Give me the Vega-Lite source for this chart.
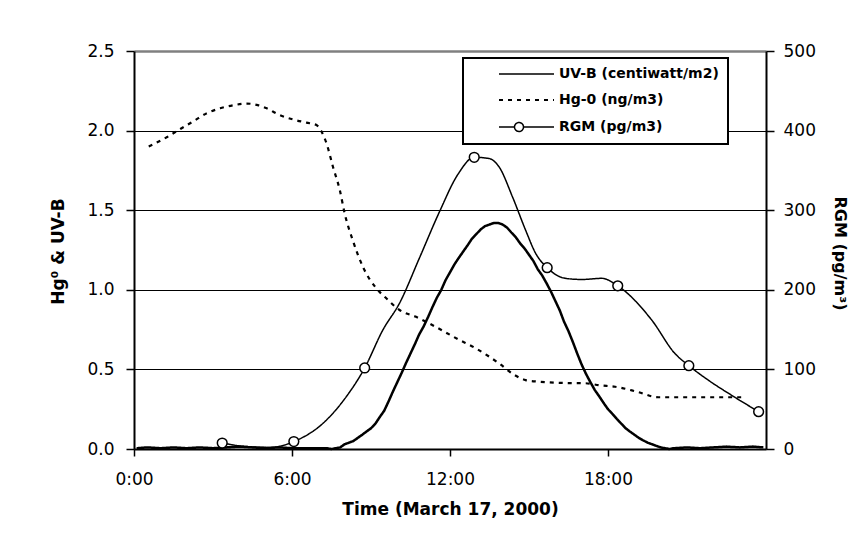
{
  "$schema": "https://vega.github.io/schema/vega-lite/v6.json",
  "width": 632,
  "height": 398,
  "autosize": {"type": "none"},
  "padding": {"left": 134, "top": 51, "right": 101, "bottom": 89},
  "background": "white",
  "config": {
    "font": "DejaVu Sans",
    "view": {"stroke": null},
    "axis": {
      "labelFont": "DejaVu Sans", "labelFontSize": 17, "labelColor": "black",
      "tickColor": "black", "domainColor": "black", "titleColor": "black",
      "titleFont": "DejaVu Sans", "titleFontWeight": "bold",
      "labelFlush": false, "labelOverlap": false
    }
  },
  "datasets": {
    "uvb": [
      {"time": 0.1, "uvb": 0.005}, {"time": 0.5, "uvb": 0.01}, {"time": 1.0, "uvb": 0.005}, {"time": 1.5, "uvb": 0.01},
      {"time": 2.0, "uvb": 0.005}, {"time": 2.5, "uvb": 0.01}, {"time": 3.0, "uvb": 0.005}, {"time": 3.5, "uvb": 0.01},
      {"time": 4.0, "uvb": 0.015}, {"time": 4.5, "uvb": 0.01}, {"time": 5.0, "uvb": 0.005}, {"time": 5.5, "uvb": 0.01},
      {"time": 6.0, "uvb": 0.005}, {"time": 6.5, "uvb": 0.005}, {"time": 7.0, "uvb": 0.005}, {"time": 7.33, "uvb": 0.005},
      {"time": 7.5, "uvb": 0.0}, {"time": 7.67, "uvb": 0.005}, {"time": 7.83, "uvb": 0.01}, {"time": 8.0, "uvb": 0.03},
      {"time": 8.17, "uvb": 0.04}, {"time": 8.33, "uvb": 0.05}, {"time": 8.5, "uvb": 0.07}, {"time": 8.67, "uvb": 0.09},
      {"time": 8.83, "uvb": 0.11}, {"time": 9.0, "uvb": 0.13}, {"time": 9.17, "uvb": 0.16}, {"time": 9.33, "uvb": 0.2},
      {"time": 9.5, "uvb": 0.24}, {"time": 9.67, "uvb": 0.3}, {"time": 9.83, "uvb": 0.36}, {"time": 10.0, "uvb": 0.42},
      {"time": 10.17, "uvb": 0.48}, {"time": 10.33, "uvb": 0.54}, {"time": 10.5, "uvb": 0.6}, {"time": 10.67, "uvb": 0.66},
      {"time": 10.83, "uvb": 0.72}, {"time": 11.0, "uvb": 0.77}, {"time": 11.17, "uvb": 0.83}, {"time": 11.33, "uvb": 0.89},
      {"time": 11.5, "uvb": 0.95}, {"time": 11.67, "uvb": 1.0}, {"time": 11.83, "uvb": 1.06}, {"time": 12.0, "uvb": 1.11},
      {"time": 12.17, "uvb": 1.16}, {"time": 12.33, "uvb": 1.2}, {"time": 12.5, "uvb": 1.24}, {"time": 12.67, "uvb": 1.28},
      {"time": 12.83, "uvb": 1.32}, {"time": 13.0, "uvb": 1.35}, {"time": 13.17, "uvb": 1.38}, {"time": 13.33, "uvb": 1.4},
      {"time": 13.5, "uvb": 1.41}, {"time": 13.67, "uvb": 1.42}, {"time": 13.83, "uvb": 1.42}, {"time": 14.0, "uvb": 1.41},
      {"time": 14.17, "uvb": 1.39}, {"time": 14.33, "uvb": 1.36}, {"time": 14.5, "uvb": 1.33}, {"time": 14.67, "uvb": 1.29},
      {"time": 14.83, "uvb": 1.26}, {"time": 15.0, "uvb": 1.22}, {"time": 15.17, "uvb": 1.18}, {"time": 15.33, "uvb": 1.13},
      {"time": 15.5, "uvb": 1.09}, {"time": 15.67, "uvb": 1.04}, {"time": 15.83, "uvb": 0.99}, {"time": 16.0, "uvb": 0.93},
      {"time": 16.17, "uvb": 0.87}, {"time": 16.33, "uvb": 0.8}, {"time": 16.5, "uvb": 0.74}, {"time": 16.67, "uvb": 0.67},
      {"time": 16.83, "uvb": 0.6}, {"time": 17.0, "uvb": 0.53}, {"time": 17.17, "uvb": 0.47}, {"time": 17.33, "uvb": 0.42},
      {"time": 17.5, "uvb": 0.37}, {"time": 17.67, "uvb": 0.33}, {"time": 17.83, "uvb": 0.29}, {"time": 18.0, "uvb": 0.25},
      {"time": 18.17, "uvb": 0.22}, {"time": 18.33, "uvb": 0.19}, {"time": 18.5, "uvb": 0.16}, {"time": 18.67, "uvb": 0.13},
      {"time": 18.83, "uvb": 0.11}, {"time": 19.0, "uvb": 0.09}, {"time": 19.17, "uvb": 0.07}, {"time": 19.33, "uvb": 0.055},
      {"time": 19.5, "uvb": 0.04}, {"time": 19.67, "uvb": 0.03}, {"time": 19.83, "uvb": 0.02}, {"time": 20.0, "uvb": 0.01},
      {"time": 20.17, "uvb": 0.005}, {"time": 20.33, "uvb": 0.0}, {"time": 20.5, "uvb": 0.005}, {"time": 21.0, "uvb": 0.01},
      {"time": 21.5, "uvb": 0.005}, {"time": 22.0, "uvb": 0.01}, {"time": 22.5, "uvb": 0.015}, {"time": 23.0, "uvb": 0.01},
      {"time": 23.5, "uvb": 0.015}, {"time": 23.9, "uvb": 0.01}
    ],
    "hg": [
      {"time": 0.56, "hg": 1.9}, {"time": 1.26, "hg": 1.96}, {"time": 1.76, "hg": 2.01}, {"time": 2.27, "hg": 2.06},
      {"time": 2.77, "hg": 2.11}, {"time": 3.27, "hg": 2.14}, {"time": 3.8, "hg": 2.16}, {"time": 4.28, "hg": 2.17},
      {"time": 4.7, "hg": 2.16}, {"time": 5.04, "hg": 2.14}, {"time": 5.5, "hg": 2.1}, {"time": 6.04, "hg": 2.07},
      {"time": 6.55, "hg": 2.05}, {"time": 6.93, "hg": 2.035}, {"time": 7.1, "hg": 2.0}, {"time": 7.31, "hg": 1.92},
      {"time": 7.56, "hg": 1.77}, {"time": 7.81, "hg": 1.63}, {"time": 8.0, "hg": 1.48}, {"time": 8.31, "hg": 1.31},
      {"time": 8.69, "hg": 1.145}, {"time": 9.2, "hg": 1.01}, {"time": 9.58, "hg": 0.947}, {"time": 10.08, "hg": 0.873},
      {"time": 10.71, "hg": 0.83}, {"time": 11.2, "hg": 0.79}, {"time": 11.59, "hg": 0.755}, {"time": 12.3, "hg": 0.69},
      {"time": 12.98, "hg": 0.632}, {"time": 13.86, "hg": 0.538}, {"time": 14.4, "hg": 0.47}, {"time": 14.87, "hg": 0.433},
      {"time": 15.37, "hg": 0.423}, {"time": 16.3, "hg": 0.415}, {"time": 17.14, "hg": 0.413}, {"time": 17.7, "hg": 0.4},
      {"time": 18.27, "hg": 0.391}, {"time": 19.1, "hg": 0.36}, {"time": 19.91, "hg": 0.325}, {"time": 21.0, "hg": 0.325},
      {"time": 22.0, "hg": 0.325}, {"time": 23.19, "hg": 0.325}
    ],
    "rgm": [
      {"time": 3.35, "rgm": 7.5, "marker": true}, {"time": 4.3, "rgm": 3, "marker": false},
      {"time": 5.2, "rgm": 2, "marker": false}, {"time": 6.07, "rgm": 9.4, "marker": true},
      {"time": 7.2, "rgm": 33, "marker": false}, {"time": 8.0, "rgm": 63, "marker": false},
      {"time": 8.76, "rgm": 101.8, "marker": true}, {"time": 9.45, "rgm": 149.5, "marker": false},
      {"time": 10.08, "rgm": 183, "marker": false}, {"time": 10.84, "rgm": 240, "marker": false},
      {"time": 11.6, "rgm": 298, "marker": false}, {"time": 12.3, "rgm": 345, "marker": false},
      {"time": 12.92, "rgm": 366.5, "marker": true}, {"time": 13.48, "rgm": 365, "marker": false},
      {"time": 13.86, "rgm": 354.6, "marker": false}, {"time": 14.37, "rgm": 317, "marker": false},
      {"time": 14.87, "rgm": 275, "marker": false}, {"time": 15.25, "rgm": 246, "marker": false},
      {"time": 15.69, "rgm": 227.8, "marker": true}, {"time": 16.38, "rgm": 214.4, "marker": false},
      {"time": 17.0, "rgm": 213, "marker": false}, {"time": 17.77, "rgm": 214.4, "marker": false},
      {"time": 18.37, "rgm": 205, "marker": true}, {"time": 19.66, "rgm": 162, "marker": false},
      {"time": 20.54, "rgm": 120, "marker": false}, {"time": 21.07, "rgm": 104.7, "marker": true},
      {"time": 21.8, "rgm": 86.7, "marker": false}, {"time": 22.68, "rgm": 67.8, "marker": false},
      {"time": 23.72, "rgm": 46.9, "marker": true}
    ]
  },
  "layer": [
    {
      "layer": [
        {
          "data": {"name": "uvb"},
          "mark": {"type": "line", "interpolate": "linear", "color": "black", "strokeWidth": 2.5},
          "encoding": {
            "x": {
              "field": "time", "type": "quantitative",
              "scale": {"domain": [0, 24], "nice": false, "zero": false},
              "axis": {
                "values": [0, 6, 12, 18], "labelExpr": "datum.value + ':00'",
                "title": "Time (March 17, 2000)", "titleFontSize": 17,
                "titleX": 316, "titleY": 65, "titleBaseline": "alphabetic", "titleAlign": "center",
                "grid": false, "tickSize": 7, "tickWidth": 1.5, "labelPadding": 15, "domainWidth": 2
              }
            },
            "y": {
              "field": "uvb", "type": "quantitative",
              "scale": {"domain": [0, 2.5], "nice": false},
              "axis": {
                "values": [0, 0.5, 1, 1.5, 2, 2.5], "format": ".1f",
                "title": "Hg⁰ & UV-B", "titleFontSize": 17,
                "titleAngle": -90, "titleX": -76, "titleY": 200, "titleAlign": "center", "titleBaseline": "middle",
                "tickSize": 8, "tickWidth": 1.5, "labelPadding": 12, "domainWidth": 2,
                "grid": true,
                "gridColor": {"condition": {"test": "datum.value == 2.5", "value": "#808080"}, "value": "black"},
                "gridWidth": {"condition": {"test": "datum.value == 2.5", "value": 2.5}, "value": 1}
              }
            },
            "strokeDash": {
              "datum": "UV-B (centiwatt/m2)",
              "scale": {"domain": ["UV-B (centiwatt/m2)", "Hg-0 (ng/m3)", "RGM (pg/m3)"], "range": [[1, 0], [4, 5], [1, 0]]},
              "legend": {
                "orient": "none", "legendX": 329, "legendY": 7, "title": null,
                "strokeColor": "black", "fillColor": "white", "padding": 9,
                "labelFont": "DejaVu Sans", "labelFontWeight": "bold", "labelFontSize": 14, "labelColor": "black",
                "rowPadding": 12, "symbolSize": 100, "labelOffset": 73,
                "symbolStrokeWidth": 1.5, "symbolStrokeColor": "black",
                "encode": {
                  "symbols": {
                    "update": {
                      "shape": {"signal": "datum.value === 'RGM (pg/m3)' ? 'M-1,0M4,0H7.1M8.9,0H15M8.9,0A0.9,0.9,0,1,1,7.1,0A0.9,0.9,0,1,1,8.9,0' : 'M-1,0M4,0H15'"},
                      "fill": {"value": "white"},
                      "stroke": {"value": "black"},
                      "strokeWidth": {"signal": "datum.value === 'Hg-0 (ng/m3)' ? 2 : 1.5"}
                    }
                  },
                  "legend": {"update": {"strokeWidth": {"value": 2}}}
                }
              }
            }
          }
        },
        {
          "data": {"name": "hg"},
          "mark": {"type": "line", "interpolate": "monotone", "color": "black", "strokeWidth": 2.2},
          "encoding": {
            "x": {"field": "time", "type": "quantitative"},
            "y": {"field": "hg", "type": "quantitative"},
            "strokeDash": {"datum": "Hg-0 (ng/m3)"}
          }
        }
      ]
    },
    {
      "layer": [
        {
          "data": {"name": "rgm"},
          "mark": {"type": "line", "interpolate": "monotone", "color": "black", "strokeWidth": 1.5},
          "encoding": {
            "x": {"field": "time", "type": "quantitative"},
            "y": {
              "field": "rgm", "type": "quantitative",
              "scale": {"domain": [0, 500], "nice": false},
              "axis": {
                "orient": "right", "values": [0, 100, 200, 300, 400, 500],
                "title": "RGM (pg/m³)", "titleFontSize": 16,
                "titleAngle": 90, "titleX": 73, "titleY": 202, "titleAlign": "center", "titleBaseline": "middle",
                "tickSize": 8, "tickWidth": 1.5, "labelPadding": 9, "domainWidth": 2, "grid": false
              }
            },
            "strokeDash": {"datum": "RGM (pg/m3)"}
          }
        },
        {
          "data": {"name": "rgm"},
          "transform": [{"filter": "datum.marker"}],
          "mark": {"type": "point", "shape": "circle", "filled": true, "fill": "white", "stroke": "black", "strokeWidth": 1.5, "size": 95, "opacity": 1},
          "encoding": {
            "x": {"field": "time", "type": "quantitative"},
            "y": {"field": "rgm", "type": "quantitative"}
          }
        }
      ]
    }
  ],
  "resolve": {"scale": {"y": "independent"}}
}
